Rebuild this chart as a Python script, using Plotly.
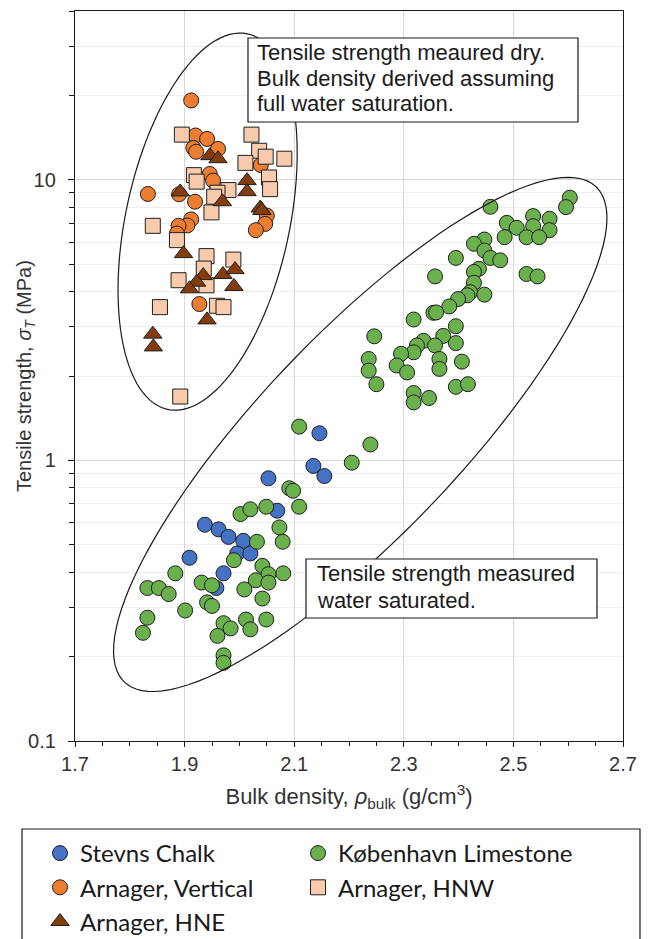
import numpy as np
import plotly.graph_objects as go

# ---------------- data ----------------
stevns_x = [2.146, 2.135, 2.155, 2.053, 2.069, 1.937, 1.962, 1.980, 2.007, 1.996,
            2.020, 1.909, 1.971, 1.958]
stevns_y = [1.25, 0.956, 0.880, 0.864, 0.662, 0.590, 0.568, 0.534, 0.517, 0.466,
            0.466, 0.450, 0.396, 0.351]

kbh_x = [2.603, 2.596, 2.458, 2.488, 2.506, 2.536, 2.536, 2.566, 2.566, 2.524,
         2.547, 2.484, 2.447, 2.428, 2.447, 2.458, 2.476, 2.395, 2.437, 2.428,
         2.524, 2.544, 2.357, 2.428, 2.421, 2.416, 2.447, 2.399, 2.383, 2.354,
         2.359, 2.318, 2.395, 2.372, 2.395, 2.336, 2.324, 2.357, 2.318, 2.295,
         2.365, 2.365, 2.406, 2.287, 2.306, 2.246, 2.236, 2.236, 2.250, 2.318,
         2.318, 2.346, 2.395, 2.417,
         2.109, 2.239, 2.205,
         2.091, 2.098, 2.109, 2.002, 2.020, 2.049, 2.073, 2.032, 2.079, 1.990,
         2.042, 1.883, 2.080, 2.053, 2.030, 2.053, 1.931, 1.950, 2.009, 1.832,
         1.853, 1.871, 2.042, 1.941, 1.950, 1.901, 1.832, 2.012, 2.049, 1.971,
         1.984, 2.020, 1.960, 1.824, 1.971, 1.971]
kbh_y = [8.64, 8.00, 8.02, 7.03, 6.75, 7.43, 6.84, 7.27, 6.62, 6.25,
         6.25, 6.25, 6.13, 5.92, 5.60, 5.27, 5.17, 5.27, 4.82, 4.70,
         4.62, 4.53, 4.53, 4.30, 3.98, 3.88, 3.90, 3.76, 3.54, 3.36,
         3.37, 3.18, 3.01, 2.78, 2.62, 2.67, 2.57, 2.57, 2.43, 2.40,
         2.30, 2.12, 2.25, 2.18, 2.06, 2.77, 2.30, 2.09, 1.87, 1.74,
         1.61, 1.67, 1.83, 1.87,
         1.32, 1.14, 0.982,
         0.796, 0.780, 0.684, 0.644, 0.670, 0.684, 0.577, 0.513, 0.513, 0.441,
         0.421, 0.396, 0.396, 0.393, 0.374, 0.367, 0.367, 0.359, 0.347, 0.351,
         0.351, 0.334, 0.322, 0.312, 0.303, 0.292, 0.275, 0.271, 0.271, 0.263,
         0.252, 0.250, 0.237, 0.243, 0.202, 0.190]

vert_x = [1.912, 1.833, 1.890, 1.920, 1.941, 1.916, 1.921, 1.961, 2.039, 1.946,
          1.952, 1.919, 1.912, 1.905, 1.889, 1.886, 2.050, 2.047, 2.030, 1.927]
vert_y = [19.2, 8.91, 8.89, 14.4, 14.0, 13.0, 12.6, 12.9, 11.3, 10.5,
          9.94, 8.36, 7.23, 6.88, 6.86, 6.44, 7.46, 6.97, 6.62, 3.61]

hnw_x = [1.895, 2.022, 2.036, 2.048, 2.082, 2.011, 1.917, 1.922, 2.054, 2.056,
         1.980, 1.960, 1.954, 1.949, 1.842, 1.886, 1.940, 1.989, 1.935, 1.889,
         1.940, 1.855, 1.959, 1.971, 1.892]
hnw_y = [14.5, 14.5, 12.7, 12.1, 11.9, 11.5, 10.4, 9.86, 10.2, 9.27,
         9.20, 9.00, 8.71, 7.66, 6.86, 6.10, 5.35, 5.20, 4.83, 4.39,
         4.21, 3.52, 3.56, 3.52, 1.69]

hne_x = [1.946, 1.961, 1.892, 2.014, 2.014, 1.969, 2.038, 2.041, 1.898, 1.934,
         1.970, 1.992, 1.922, 1.909, 1.990, 1.941, 1.842, 1.843]
hne_y = [12.2, 11.9, 9.06, 9.94, 9.08, 8.36, 7.94, 7.78, 5.46, 4.56,
         4.60, 4.79, 4.32, 4.09, 4.17, 3.17, 2.82, 2.54]

x_ticks = [1.7, 1.9, 2.1, 2.3, 2.5, 2.7]

# ---------------- layout geometry ----------------
W, H = 650, 939
ML, MR, MT, MB = 75, 27, 11, 198
PW, PH = W - ML - MR, H - MT - MB
X0, X1 = 1.7, 2.7
LY0, LY1 = -1.0, float(np.log10(40))


def pix_to_paper(px, py):
    return (px - ML) / PW, (H - MB - py) / PH


def ellipse_path(cx, cy, a, b, ang_deg, n=120):
    # centre in data units, semi-axes in screen pixels, angle from +x (counter-clockwise)
    cxp = ML + (cx - X0) / (X1 - X0) * PW
    cyp = H - MB - (np.log10(cy) - LY0) / (LY1 - LY0) * PH
    t = np.radians(ang_deg)
    phi = np.linspace(0, 2 * np.pi, n)
    X = cxp + a * np.cos(phi) * np.cos(t) - b * np.sin(phi) * np.sin(t)
    Y = cyp - (a * np.cos(phi) * np.sin(t) + b * np.sin(phi) * np.cos(t))
    pts = [pix_to_paper(x, y) for x, y in zip(X, Y)]
    return "M " + " L ".join(f"{p[0]:.5f},{p[1]:.5f}" for p in pts) + " Z"


OUT = dict(color="#1f1f1f", width=1)
fig = go.Figure()
fig.add_trace(go.Scatter(x=stevns_x, y=stevns_y, mode="markers", name="Stevns Chalk", legend="legend",
                         marker=dict(symbol="circle", size=15, color="#4472C4", line=OUT)))
fig.add_trace(go.Scatter(x=kbh_x, y=kbh_y, mode="markers", name="København Limestone", legend="legend2",
                         marker=dict(symbol="circle", size=15, color="#6AB04C", line=OUT)))
fig.add_trace(go.Scatter(x=vert_x, y=vert_y, mode="markers", name="Arnager, Vertical", legend="legend",
                         marker=dict(symbol="circle", size=15, color="#ED7D31", line=OUT)))
fig.add_trace(go.Scatter(x=hnw_x, y=hnw_y, mode="markers", name="Arnager, HNW", legend="legend2",
                         marker=dict(symbol="square", size=15, color="#F8CBAD", line=OUT)))
fig.add_trace(go.Scatter(x=hne_x, y=hne_y, mode="markers", name="Arnager, HNE", legend="legend",
                         marker=dict(symbol="triangle-up", size=16, color="#843C0C", line=OUT)))

shapes = [
    dict(type="path", xref="paper", yref="paper", path=ellipse_path(1.942, 7.1, 192, 82, 78),
         line=dict(color="#1a1a1a", width=1.2)),
    dict(type="path", xref="paper", yref="paper", path=ellipse_path(2.2205, 1.238, 342, 100, 46.4),
         line=dict(color="#1a1a1a", width=1.2)),
]


def box(x0, y0, x1, y1, fill="white"):
    a = pix_to_paper(x0, y0)
    b = pix_to_paper(x1, y1)
    return dict(type="rect", xref="paper", yref="paper", x0=a[0], y0=b[1], x1=b[0], y1=a[1],
                line=dict(color="#1a1a1a", width=1.2), fillcolor=fill)


shapes.append(box(248, 38, 578, 122))
shapes.append(box(306, 559, 597, 618))
# legend frame
shapes.append(box(22, 829, 640, 960, fill="rgba(0,0,0,0)"))

annotations = []
TXT = dict(family="Arial, Liberation Sans", size=22, color="#1a1a1a")
for txt, (px, py) in [("Tensile strength meaured dry.", (255, 52)),
                      ("Bulk density derived assuming", (255, 78)),
                      ("full water saturation.", (255, 103)),
                      ("Tensile strength measured", (315, 573)),
                      ("water saturated.", (315, 600))]:
    xp, yp = pix_to_paper(px, py)
    annotations.append(dict(x=xp, y=yp, xref="paper", yref="paper", text=txt, showarrow=False,
                            xanchor="left", yanchor="middle", font=TXT))

# y-axis title (placed as rotated text close to the axis like the reference)
ytx, yty = pix_to_paper(25, (MT + H - MB) / 2)
annotations.append(dict(x=ytx, y=yty, xref="paper", yref="paper", textangle=-90, showarrow=False,
                        text="Tensile strength, <i>σ</i><sub><i>T</i></sub> (MPa)",
                        xanchor="center", yanchor="middle",
                        font=dict(family="Arial, Liberation Sans", size=20, color="#333333")))

TICKF = dict(family="Arial, Liberation Sans", size=20, color="#333333")
LEGF = dict(family="Lato", size=24, color="#1a1a1a")
l1x, l1y = pix_to_paper(40, 831)
l2x, l2y = pix_to_paper(298, 831)

fig.update_layout(
    width=W, height=H,
    margin=dict(l=ML, r=MR, t=MT, b=MB, autoexpand=False),
    paper_bgcolor="white", plot_bgcolor="white",
    shapes=shapes, annotations=annotations,
    showlegend=True,
    legend=dict(orientation="v", x=l1x, y=l1y, xanchor="left", yanchor="top",
                font=LEGF, bgcolor="rgba(0,0,0,0)", borderwidth=0, traceorder="normal"),
    legend2=dict(orientation="v", x=l2x, y=l2y, xanchor="left", yanchor="top",
                 font=LEGF, bgcolor="rgba(0,0,0,0)", borderwidth=0, traceorder="normal"),
    xaxis=dict(range=[X0, X1], tickvals=x_ticks, ticktext=[f"{v:.1f}" for v in x_ticks],
               showgrid=True, gridcolor="#d9d9d9", gridwidth=1,
               showline=True, linecolor="#1a1a1a", linewidth=1.3, mirror=True,
               ticks="outside", ticklen=5, tickcolor="#1a1a1a", tickfont=TICKF,
               minor=dict(dtick=0.05, tick0=1.7, ticks="outside", ticklen=4,
                          tickcolor="#1a1a1a", showgrid=False),
               zeroline=False,
               title=dict(text="Bulk density, <i>ρ</i><sub>bulk</sub> (g/cm<sup>3</sup>)",
                          font=dict(family="Arial, Liberation Sans", size=22, color="#333333"),
                          standoff=14)),
    yaxis=dict(type="log", range=[LY0, LY1], dtick=1,
               showgrid=True, gridcolor="#d9d9d9", gridwidth=1,
               showline=True, linecolor="#1a1a1a", linewidth=1.3, mirror=True,
               ticks="outside", ticklen=6, tickcolor="#1a1a1a", tickfont=TICKF,
               ticklabelstandoff=8,
               minor=dict(dtick="D1", ticks="outside", ticklen=5, tickcolor="#1a1a1a",
                          showgrid=True, gridcolor="#eeeeee", gridwidth=1),
               zeroline=False),
)

fig.write_html("out.html")
